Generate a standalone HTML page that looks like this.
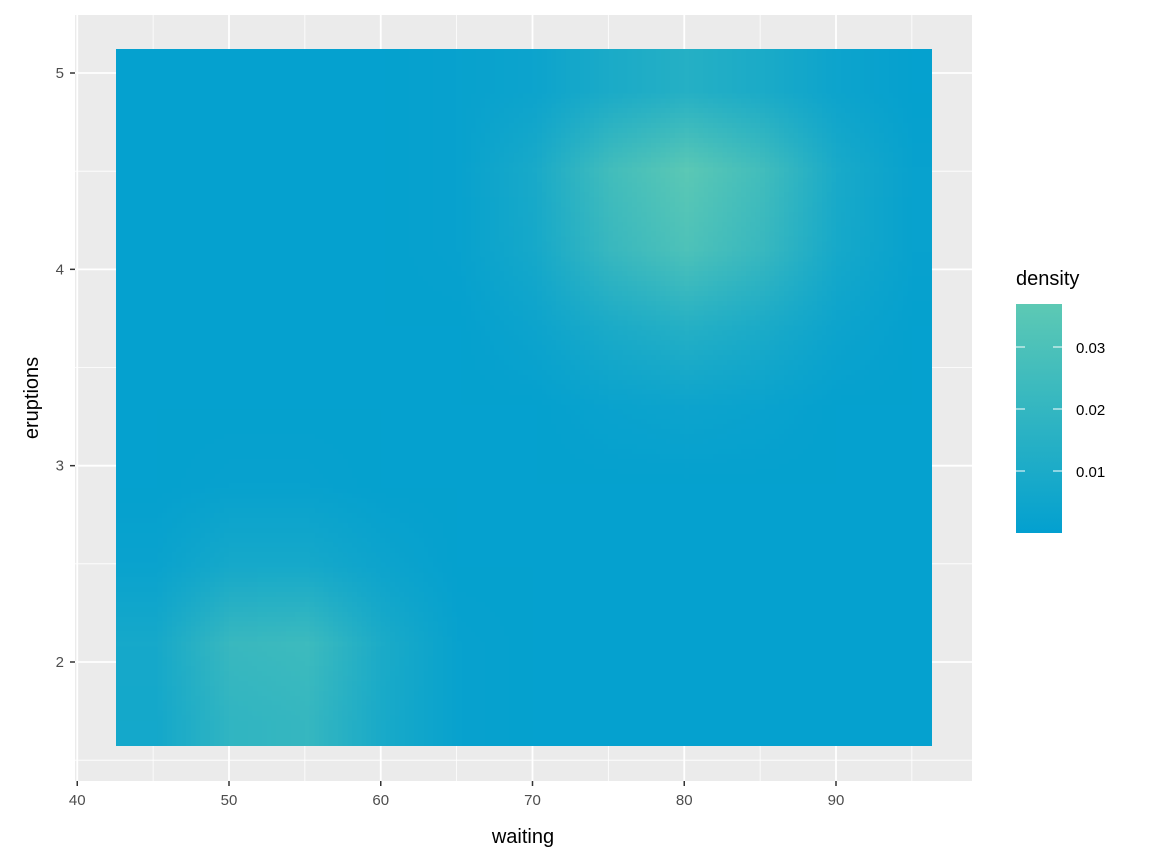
<!DOCTYPE html>
<html><head><meta charset="utf-8"><style>
body{margin:0;background:#fff;font-family:"Liberation Sans",Arial,sans-serif}
#wrap{position:relative;width:1152px;height:865px}
#chart{position:absolute;left:0;top:0}
#rasterBox{position:absolute;left:116px;top:49px;width:816px;height:697px;overflow:hidden}
#rasterCanvas{position:absolute;image-rendering:auto}
</style></head><body>
<div id="wrap">
<svg id="chart" width="1152" height="865" xmlns="http://www.w3.org/2000/svg" font-family="Liberation Sans, Arial, sans-serif">
<defs>
<clipPath id="rasterClip"><rect x="116" y="49" width="816" height="697"/></clipPath>
<linearGradient id="legendGrad" x1="0" y1="1" x2="0" y2="0"><stop offset="0" stop-color="rgb(3,160,208)"/><stop offset="1" stop-color="rgb(93,201,180)"/></linearGradient>
</defs>
<rect x="75" y="15" width="897" height="766" fill="#EBEBEB"/>
<g id="gridG"></g>
<g clip-path="url(#rasterClip)"><rect x="116" y="49" width="816" height="697" fill="rgb(3,160,208)"/><g id="cellsG"></g></g>
<g id="axesG"></g>
<text x="523" y="843" font-size="20" text-anchor="middle">waiting</text>
<text transform="translate(38,398) rotate(-90)" font-size="20" text-anchor="middle">eruptions</text>
<g>
<text x="1016" y="285" font-size="20">density</text>
<rect x="1016" y="304" width="46" height="229" fill="url(#legendGrad)"/>
<g id="legendTicksG"></g>
</g>
</svg>
<div id="rasterBox"><canvas id="rasterCanvas"></canvas></div>
</div>
<script>
const waitingCenters=[45,50,55,60,65,70,75,80,85,90,95];
const eruptionCenters=[4.9,4.5,4.1,3.7,3.3,2.9,2.5,2.1,1.7];
// density values x 0.001
const densityRows=[
[1,1,1,1,2,4,10,14,10,4,1],
[1,1,1,1,2,9,26,36,26,9,2],
[1,1,1,1,2,8,22,31,22,8,2],
[1,1,1,1,1,4,10,14,10,4,1],
[1,1,1,1,1,1,3,4,3,1,1],
[1,2,2,1,1,1,1,1,1,1,1],
[3,8,8,4,1,1,1,1,1,1,1],
[8,22,24,10,2,1,1,1,1,1,1],
[7,19,21,9,2,1,1,1,1,1,1]];
const xTicks=[40,50,60,70,80,90];
const yTicks=[2,3,4,5];
const legendTicks=[0.01,0.02,0.03];
const densityMax=0.037;

const svgNS="http://www.w3.org/2000/svg";
function scaleWaiting(v){return 229+(Number(v)-50)*15.175;}
function scaleErupt(v){return 662-(Number(v)-2)*196.33;}
function scaleLegend(v){return 533-Number(v)*6200;}
function colorRGB(v){const t=Math.min(1,Math.max(0,v/densityMax));return [Math.round(3+90*t),Math.round(160+41*t),Math.round(208-28*t)];}
function colorFor(v){const c=colorRGB(v);return "rgb("+c[0]+","+c[1]+","+c[2]+")";}
function makeEl(tag,attrs,parent){const e=document.createElementNS(svgNS,tag);Object.keys(attrs).forEach(function(k){e.setAttribute(k,String(attrs[k]));});parent.appendChild(e);return e;}

const gridG=document.getElementById('gridG');
[45,55,65,75,85,95].forEach(function(v){
 const ln=makeEl('line',{x1:scaleWaiting(v),x2:scaleWaiting(v),y1:15,y2:781,stroke:'#fff','stroke-width':0.8},gridG);
 
 
});
[1.5,2.5,3.5,4.5].forEach(function(v){
 const ln=makeEl('line',{x1:75,x2:972,y1:scaleErupt(v),y2:scaleErupt(v),stroke:'#fff','stroke-width':0.8},gridG);
 
 
});
xTicks.forEach(function(v){
 const ln=makeEl('line',{x1:scaleWaiting(v),x2:scaleWaiting(v),y1:15,y2:781,stroke:'#fff','stroke-width':1.8},gridG);
 
 
});
yTicks.forEach(function(v){
 const ln=makeEl('line',{x1:75,x2:972,y1:scaleErupt(v),y2:scaleErupt(v),stroke:'#fff','stroke-width':1.8},gridG);
 
 
});

// SVG cells (underlying marks)
const cellsG=document.getElementById('cellsG');
const cellW=scaleWaiting(55)-scaleWaiting(50);
const cellH=scaleErupt(2)-scaleErupt(2.4);
for(let i=0;i<densityRows.length;i++){
 for(let j=0;j<densityRows[i].length;j++){
  const cx=scaleWaiting(waitingCenters[j]);
  const cy=scaleErupt(eruptionCenters[i]);
  const rc=makeEl('rect',{x:cx-cellW/2,y:cy-cellH/2,width:cellW+0.5,height:cellH+0.5,fill:colorFor(densityRows[i][j]*0.001)},cellsG);
  
  
 }
}

// Smooth canvas rendering (bilinear upscaled from the same data)
const cv=document.getElementById('rasterCanvas');
const nC=waitingCenters.length, nR=eruptionCenters.length;
cv.width=nC; cv.height=nR;
const ctx=cv.getContext('2d');
const img=ctx.createImageData(nC,nR);
for(let i=0;i<nR;i++)for(let j=0;j<nC;j++){
 const c=colorRGB(densityRows[i][j]*0.001);const k=(i*nC+j)*4;
 img.data[k]=c[0];img.data[k+1]=c[1];img.data[k+2]=c[2];img.data[k+3]=255;
}
ctx.putImageData(img,0,0);
const leftPx=scaleWaiting(waitingCenters[0])-cellW/2;
const rightPx=scaleWaiting(waitingCenters[nC-1])+cellW/2;
const topPx=Math.min(49,scaleErupt(eruptionCenters[0])-cellH/2);
const botPx=Math.max(746,scaleErupt(eruptionCenters[nR-1])+cellH/2);
cv.style.left=(leftPx-116)+'px';
cv.style.top=(topPx-49)+'px';
cv.style.width=(rightPx-leftPx)+'px';
cv.style.height=(botPx-topPx)+'px';

const axesG=document.getElementById('axesG');
xTicks.forEach(function(v){
 const px=scaleWaiting(v);
 const tk=makeEl('line',{x1:px,x2:px,y1:781,y2:786,stroke:'#333','stroke-width':1.5},axesG);
 
 
 const tx=makeEl('text',{x:px,y:805,'font-size':15,fill:'#4D4D4D','text-anchor':'middle'},axesG);
 tx.textContent=String(v);
 
 
});
yTicks.forEach(function(v){
 const py=scaleErupt(v);
 const tk=makeEl('line',{x1:70,x2:75,y1:py,y2:py,stroke:'#333','stroke-width':1.5},axesG);
 
 
 const tx=makeEl('text',{x:64,y:py+5,'font-size':15,fill:'#4D4D4D','text-anchor':'end'},axesG);
 tx.textContent=String(v);
 
 
});
const legendTicksG=document.getElementById('legendTicksG');
legendTicks.forEach(function(v){
 const py=scaleLegend(v);
 makeEl('line',{x1:1016,x2:1025,y1:py,y2:py,stroke:'#fff','stroke-width':1},legendTicksG);
 makeEl('line',{x1:1053,x2:1062,y1:py,y2:py,stroke:'#fff','stroke-width':1},legendTicksG);
 const tx=makeEl('text',{x:1076,y:py+6,'font-size':15,fill:'#000'},legendTicksG);
 tx.textContent=v.toFixed(2);
 
 
});
</script>
</body></html>
